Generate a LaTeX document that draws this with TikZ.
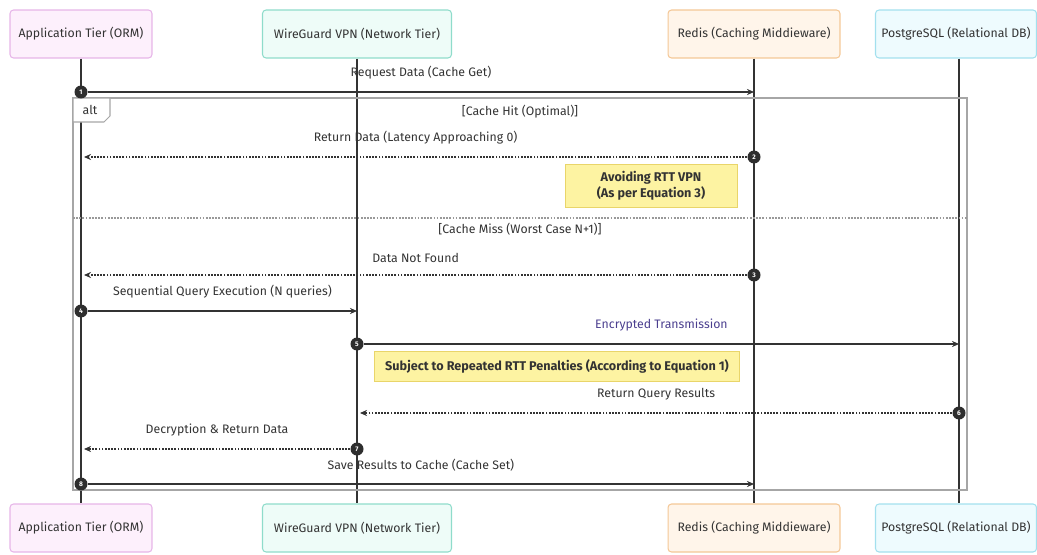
\documentclass[tikz,border=0pt]{standalone}
\usepackage{fontspec}
\setmainfont{Fira Sans}
\usetikzlibrary{arrows.meta}

\definecolor{inkgray}{HTML}{333333}
\definecolor{appfill}{HTML}{FDF0FC}
\definecolor{appline}{HTML}{E6B5E8}
\definecolor{vpnfill}{HTML}{EEFCF8}
\definecolor{vpnline}{HTML}{8FDCCB}
\definecolor{redisfill}{HTML}{FFF5EA}
\definecolor{redisline}{HTML}{F4C796}
\definecolor{pgfill}{HTML}{EEFBFE}
\definecolor{pgline}{HTML}{A3E0EE}
\definecolor{notefill}{HTML}{FDF3A2}
\definecolor{noteline}{HTML}{E9D56A}
\definecolor{encblue}{HTML}{4B3F8F}

\tikzset{
  base/.style={font=\fontsize{7}{8.4}\selectfont, text=inkgray},
  actor/.style={base, draw, rounded corners=2pt, line width=0.6pt, minimum height=0.96cm},
  life/.style={draw=inkgray, line width=0.7pt},
  msg/.style={draw=inkgray, line width=0.7pt, -{Stealth[length=4pt,width=3.5pt]}},
  reply/.style={msg, dash pattern=on 1pt off 0.8pt},
  msglabel/.style={base, above=3.5pt},
  num/.style={circle, fill=inkgray!90!black, inner sep=0pt, minimum size=0.26cm,
    text=white, font=\fontsize{3.8}{4}\selectfont\bfseries},
  notebox/.style={base, draw=noteline, fill=notefill, font=\fontsize{7.2}{8.8}\selectfont\bfseries,
    align=center, line width=0.5pt},
  guard/.style={base}
}

\begin{document}
\begin{tikzpicture}[x=0.02cm, y=-0.02cm]
  \useasboundingbox (0,0) rectangle (1037,554);

  % Participants (top)
  \node[actor, fill=appfill, draw=appline, minimum width=2.84cm] (appT) at (81,34) {Application Tier (ORM)};
  \node[actor, fill=vpnfill, draw=vpnline, minimum width=3.78cm] (vpnT) at (357,34) {WireGuard VPN (Network Tier)};
  \node[actor, fill=redisfill, draw=redisline, minimum width=3.44cm] (redisT) at (754,34) {Redis (Caching Middieware)};
  \node[actor, fill=pgfill, draw=pgline, minimum width=3.2cm] (pgT) at (956,34) {PostgreSQL (Relational DB)};

  % Participants (bottom)
  \node[actor, fill=appfill, draw=appline, minimum width=2.84cm] (appB) at (81,528) {Application Tier (ORM)};
  \node[actor, fill=vpnfill, draw=vpnline, minimum width=3.78cm] (vpnB) at (357,528) {WireGuard VPN (Network Tier)};
  \node[actor, fill=redisfill, draw=redisline, minimum width=3.44cm] (redisB) at (754,528) {Redis (Caching Middieware)};
  \node[actor, fill=pgfill, draw=pgline, minimum width=3.2cm] (pgB) at (956,528) {PostgreSQL (Relational DB)};

  % Lifelines
  \draw[life] (appT) -- (appB);
  \draw[life] (vpnT) -- (vpnB);
  \draw[life] (redisT) -- (redisB);
  \draw[life] ([xshift=1.7pt]pgT.south) -- ([xshift=1.7pt]pgB.north);

  % Alt frame
  \draw[gray!70, line width=0.8pt] (73,98) rectangle (967,490);
  \draw[gray!70, line width=0.6pt, fill=white] (73,98) -- (110,98) -- (110,116) -- (104,122) -- (73,122) -- cycle;
  \node[guard] (altlbl) at (90,110) {alt};
  \node[guard] (hit) at (520,112) {[Cache Hit (Optimal)]};
  \draw[gray!80, dash pattern=on 1pt off 0.8pt, line width=0.6pt] (73,218) -- (967,218);
  \node[guard] (miss) at (520,229) {[Cache Miss (Worst Case N+1)]};

  % Message 1
  \node[num] (n1) at (81,92) {1};
  \coordinate (e1) at (754,92);
  \draw[msg] (n1) -- (e1) node[msglabel, midway] {Request Data (Cache Get)};

  % Message 2
  \node[num] (n2) at (754,157) {2};
  \coordinate (e2) at (84,157);
  \draw[reply] (n2) -- (e2) node[msglabel, midway] {Return Data (Latency Approaching 0)};
  \node[notebox, minimum width=3.44cm, minimum height=0.86cm] (note1) at (651,186) {Avoiding RTT VPN\\(As per Equation 3)};

  % Message 3
  \node[num] (n3) at (754,275) {3};
  \coordinate (e3) at (84,275);
  \draw[reply] (n3) -- (e3) node[msglabel, midway] {Data Not Found};

  % Message 4
  \node[num] (n4) at (81,311) {4};
  \coordinate (e4) at (357,311);
  \draw[msg] (n4) -- (e4) node[msglabel, midway] {Sequential Query Execution (N queries)};

  % Message 5
  \node[num] (n5) at (357,344) {5};
  \coordinate (e5) at (959,344);
  \draw[msg] (n5) -- (e5) node[msglabel, midway, text=encblue] {Encrypted Transmission};
  \node[notebox, minimum width=7.3cm, minimum height=0.6cm] (note2) at (557,366) {Subject to Repeated RTT Penalties (According to Equation 1)};

  % Message 6
  \node[num] (n6) at (959,413) {6};
  \coordinate (e6) at (360,413);
  \draw[reply] (n6) -- (e6) node[msglabel, midway] {Return Query Results};

  % Message 7
  \node[num] (n7) at (357,449) {7};
  \coordinate (e7) at (84,449);
  \draw[reply] (n7) -- (e7) node[msglabel, midway] {Decryption \& Return Data};

  % Message 8
  \node[num] (n8) at (81,484) {8};
  \coordinate (e8) at (754,484);
  \draw[msg] (n8) -- (e8) node[msglabel, midway] {Save Results to Cache (Cache Set)};

\end{tikzpicture}
\end{document}
